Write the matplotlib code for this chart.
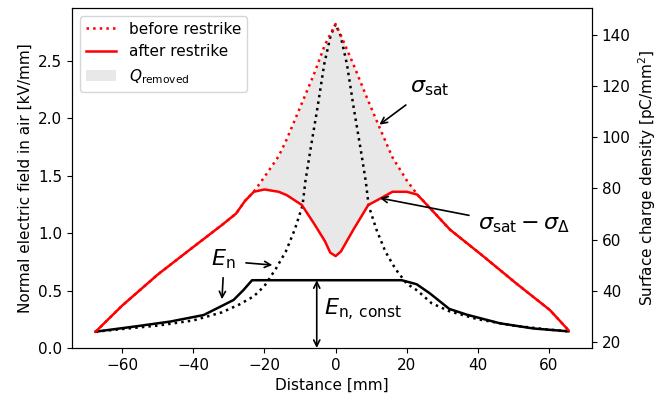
import numpy as np
import matplotlib
matplotlib.use("Agg")
import matplotlib.pyplot as plt
from matplotlib.lines import Line2D
from matplotlib.patches import Patch

plt.rcParams['font.size'] = 11

# surface charge, central part (where before and after differ) on a shared grid
x_mid = [-23, -20, -16, -13.7, -9.5, -6, -3, -1.5, 0, 1.5, 5, 9.2, 12.5, 16, 20, 23]
before_mid = [1.36, 1.49, 1.67, 1.82, 2.13, 2.39, 2.64, 2.73, 2.82, 2.72, 2.47, 2.15, 1.91, 1.66, 1.46, 1.35]
after_mid = [1.36, 1.38, 1.36, 1.33, 1.245, 1.08, 0.93, 0.83, 0.80, 0.84, 1.03, 1.245, 1.30, 1.36, 1.36, 1.335]

# outer parts of the charge curve (identical before/after)
x_left = [-67.5, -60, -50, -40, -32, -28, -25.5, -23]
q_left = [0.142, 0.37, 0.64, 0.88, 1.07, 1.17, 1.28, 1.36]
x_right = [23, 26.5, 32.2, 41.5, 50.9, 60.3, 65.5]
q_right = [1.335, 1.22, 1.03, 0.80, 0.56, 0.33, 0.155]

# normal electric field before restrike
x_eb = [-67.5, -60, -50, -40, -32, -27, -23, -20, -16.8, -14, -11.5, -9.3, -8.5, -7, -5.1, -3.2, -1.4, 0,
        1.4, 3.2, 5.1, 7, 8.5, 9.3, 11.5, 14, 16.8, 20, 23, 27, 32, 40, 50, 60, 65.5]
e_before = [0.142, 0.165, 0.195, 0.24, 0.31, 0.38, 0.45, 0.54, 0.69, 0.84, 1.03, 1.24, 1.45, 1.74, 2.09, 2.47, 2.72, 2.82,
            2.72, 2.47, 2.09, 1.74, 1.45, 1.24, 1.03, 0.84, 0.69, 0.56, 0.50, 0.39, 0.32, 0.25, 0.195, 0.16, 0.145]

# normal electric field after restrike (limited to E_n,const)
x_ea = [-67.5, -55.8, -46.5, -37.1, -32.4, -28.7, -25.9, -23.5, 18.6, 22.8, 26.5, 32, 36.9, 46.2, 55.6, 65.5]
e_after = [0.142, 0.19, 0.23, 0.287, 0.36, 0.418, 0.505, 0.59, 0.59, 0.555, 0.476, 0.34, 0.29, 0.215, 0.17, 0.145]

x_before = x_left + x_mid[1:-1] + x_right
q_before = q_left + before_mid[1:-1] + q_right
x_after = x_left + x_mid[1:-1] + x_right
q_after = q_left + after_mid[1:-1] + q_right

fig, ax = plt.subplots(figsize=(6.63, 3.94), dpi=100)
fig.subplots_adjust(left=0.1086, right=0.893, bottom=0.1168, top=0.9797)

ax.fill_between(x_mid, after_mid, before_mid, color='#e8e8e8', lw=0)
ax.plot(x_eb, e_before, ':', color='k', lw=1.8)
ax.plot(x_ea, e_after, '-', color='k', lw=1.8)
ax.plot(x_before, q_before, ':', color='r', lw=1.8)
ax.plot(x_after, q_after, '-', color='r', lw=1.8)

ax.set_xlim(-74.15, 72.15)
ax.set_ylim(0.0, 2.96)
ax.set_xlabel('Distance [mm]')
ax.set_ylabel('Normal electric field in air [kV/mm]')

ax2 = ax.twinx()
ax2.set_ylim(17.7, 150.5)
ax2.set_yticks([20, 40, 60, 80, 100, 120, 140])
ax2.set_ylabel('Surface charge density [pC/mm$^2$]')

handles = [Line2D([], [], ls=':', color='r', lw=1.8),
           Line2D([], [], ls='-', color='r', lw=1.8),
           Patch(facecolor='#e8e8e8', edgecolor='none')]
ax.legend(handles, ['before restrike', 'after restrike', r'$Q_\mathrm{removed}$'], loc='upper left')

arr = dict(arrowstyle='->', color='k', lw=1.2)
ax.annotate('', xy=(11.7, 1.93), xytext=(20.4, 2.13), arrowprops=arr)
ax.text(21, 2.26, r'$\sigma_\mathrm{sat}$', fontsize=16, ha='left', va='center')

ax.annotate('', xy=(11.7, 1.31), xytext=(38.3, 1.15), arrowprops=arr)
ax.text(40, 1.07, r'$\sigma_\mathrm{sat}-\sigma_\Delta$', fontsize=16, ha='left', va='center')

ax.annotate('', xy=(-17, 0.72), xytext=(-26, 0.743), arrowprops=arr)
ax.annotate('', xy=(-32, 0.40), xytext=(-31.6, 0.636), arrowprops=arr)
ax.text(-35, 0.77, r'$E_\mathrm{n}$', fontsize=16, ha='left', va='center')

ax.annotate('', xy=(-5.3, 0.0), xytext=(-5.3, 0.59),
            arrowprops=dict(arrowstyle='<->', color='k', lw=1.2, shrinkA=0, shrinkB=0))
ax.text(-3.2, 0.33, r'$E_\mathrm{n,\, const}$', fontsize=16, ha='left', va='center')

fig.savefig('out.png', dpi=100)
